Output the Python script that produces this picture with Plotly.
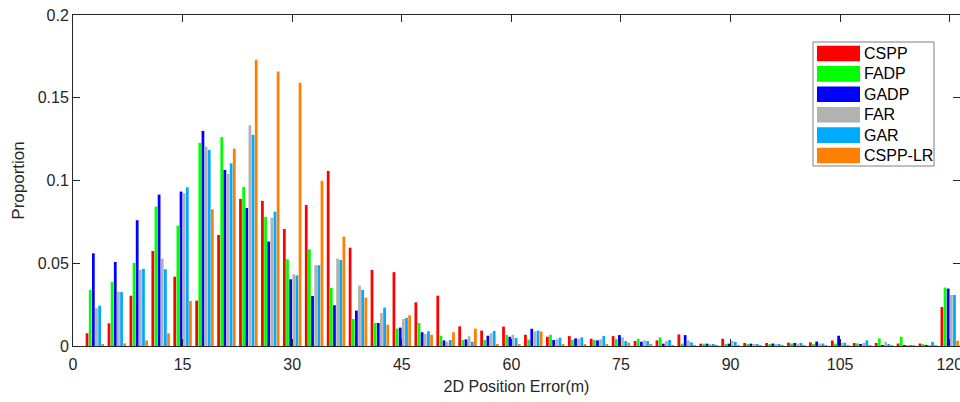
import plotly.graph_objects as go

bins = [3 * k for k in range(1, 41)]

series_names = ["CSPP", "FADP", "GADP", "FAR", "GAR", "CSPP-LR"]
series_colors = ["#FF0000", "#00FF00", "#0000FF", "#B2B2B2", "#00AAFF", "#FF8000"]

cspp = [0.0077, 0.0137, 0.0304, 0.0574, 0.0419, 0.0274, 0.0671, 0.0889, 0.0877, 0.0707,
        0.0852, 0.1058, 0.0594, 0.0460, 0.0446, 0.0264, 0.0304, 0.0119, 0.0093, 0.0117,
        0.0068, 0.0056, 0.0060, 0.0044, 0.0060, 0.0030, 0.0034, 0.0070, 0.0014, 0.0044,
        0.0018, 0.0018, 0.0020, 0.0022, 0.0033, 0.0018, 0.0018, 0.0015, 0.0015, 0.0236]
fadp = [0.0339, 0.0387, 0.0502, 0.0842, 0.0727, 0.1227, 0.1262, 0.0961, 0.0780, 0.0524,
        0.0584, 0.0351, 0.0163, 0.0139, 0.0105, 0.0139, 0.0062, 0.0036, 0.0036, 0.0067,
        0.0038, 0.0068, 0.0036, 0.0036, 0.0042, 0.0044, 0.0052, 0.0014, 0.0014, 0.0008,
        0.0012, 0.0010, 0.0015, 0.0010, 0.0014, 0.0016, 0.0046, 0.0056, 0.0008, 0.0353]
gadp = [0.0560, 0.0508, 0.0760, 0.0915, 0.0933, 0.1300, 0.1064, 0.0834, 0.0631, 0.0403,
        0.0302, 0.0246, 0.0214, 0.0139, 0.0111, 0.0083, 0.0034, 0.0040, 0.0062, 0.0056,
        0.0104, 0.0036, 0.0046, 0.0034, 0.0066, 0.0026, 0.0014, 0.0066, 0.0014, 0.0014,
        0.0014, 0.0015, 0.0018, 0.0027, 0.0062, 0.0010, 0.0005, 0.0005, 0.0005, 0.0347]
far = [0.0228, 0.0328, 0.0460, 0.0528, 0.0923, 0.1205, 0.1040, 0.1334, 0.0776, 0.0433,
       0.0488, 0.0528, 0.0365, 0.0200, 0.0163, 0.0073, 0.0026, 0.0059, 0.0077, 0.0068,
       0.0088, 0.0040, 0.0044, 0.0040, 0.0052, 0.0034, 0.0030, 0.0034, 0.0010, 0.0030,
       0.0008, 0.0008, 0.0015, 0.0015, 0.0020, 0.0018, 0.0026, 0.0006, 0.0006, 0.0308]
gar = [0.0244, 0.0326, 0.0466, 0.0464, 0.0959, 0.1185, 0.1104, 0.1276, 0.0812, 0.0427,
       0.0488, 0.0520, 0.0339, 0.0232, 0.0169, 0.0089, 0.0036, 0.0026, 0.0091, 0.0048,
       0.0093, 0.0050, 0.0052, 0.0060, 0.0030, 0.0030, 0.0036, 0.0022, 0.0010, 0.0025,
       0.0008, 0.0010, 0.0018, 0.0015, 0.0020, 0.0034, 0.0010, 0.0006, 0.0025, 0.0308]
cspp_lr = [0.0010, 0.0016, 0.0034, 0.0077, 0.0272, 0.0826, 0.1193, 0.1729, 0.1659, 0.1590,
           0.0998, 0.0661, 0.0292, 0.0129, 0.0186, 0.0068, 0.0083, 0.0105, 0.0012, 0.0010,
           0.0088, 0.0008, 0.0010, 0.0010, 0.0020, 0.0010, 0.0005, 0.0005, 0.0005, 0.0005,
           0.0005, 0.0005, 0.0005, 0.0005, 0.0005, 0.0005, 0.0005, 0.0005, 0.0005, 0.0032]

all_series = [cspp, fadp, gadp, far, gar, cspp_lr]

x_ticks = [0, 15, 30, 45, 60, 75, 90, 105, 120]
y_ticks = [0, 0.05, 0.1, 0.15, 0.2]
y_tick_labels = ["0", "0.05", "0.1", "0.15", "0.2"]

fig = go.Figure()
for name, color, vals in zip(series_names, series_colors, all_series):
    fig.add_trace(go.Bar(x=bins, y=vals, name=name, marker=dict(color=color, line=dict(width=0)),
                         showlegend=False))

# --- legend box (MATLAB style, wide swatches), positioned in paper coordinates ---
PLOT_L, PLOT_R, PLOT_T, PLOT_B = 73, 960, 15, 346


def px_x(p):
    return (p - PLOT_L) / (PLOT_R - PLOT_L)


def px_y(p):
    return (PLOT_B - p) / (PLOT_B - PLOT_T)


fig.add_shape(type="rect", xref="paper", yref="paper",
              x0=px_x(813), x1=px_x(934), y0=px_y(166), y1=px_y(42),
              line=dict(color="#7F7F7F", width=1), fillcolor="white", layer="above")
row0, pitch, half = 53.5, 20.4, 7.8
for i, (name, color) in enumerate(zip(series_names, series_colors)):
    cy = row0 + i * pitch
    fig.add_shape(type="rect", xref="paper", yref="paper",
                  x0=px_x(817), x1=px_x(860), y0=px_y(cy + half), y1=px_y(cy - half),
                  line=dict(width=0), fillcolor=color, layer="above")
    fig.add_annotation(xref="paper", yref="paper", x=px_x(862), y=px_y(cy),
                       xanchor="left", yanchor="middle", text=name, showarrow=False,
                       font=dict(size=16, color="black"))

axis_color = "#262626"
fig.update_layout(
    width=960, height=402,
    margin=dict(l=73, r=0, t=15, b=56, autoexpand=False),
    paper_bgcolor="white", plot_bgcolor="white",
    barmode="group", bargap=0.14, bargroupgap=0.12,
    font=dict(family="Liberation Sans, Arial, sans-serif", size=15, color=axis_color),
    showlegend=False,
)
fig.update_xaxes(range=[0, 121.4], tickvals=x_ticks, ticktext=[str(v) for v in x_ticks],
                 ticks="inside", ticklen=7, tickcolor=axis_color, showline=True,
                 linecolor=axis_color, linewidth=1, mirror="ticks", showgrid=False,
                 zeroline=False, tickfont=dict(size=16), automargin=False,
                 ticklabelstandoff=4, ticklabeloverflow="allow",
                 title=dict(text="2D Position Error(m)", font=dict(size=16), standoff=8))
fig.update_yaxes(range=[0, 0.2], tickvals=y_ticks, ticktext=y_tick_labels,
                 ticks="inside", ticklen=7, tickcolor=axis_color, showline=True,
                 linecolor=axis_color, linewidth=1, mirror="ticks", showgrid=False,
                 zeroline=False, tickfont=dict(size=16), automargin=False,
                 ticklabeloverflow="allow",
                 title=dict(text="Proportion", font=dict(size=17), standoff=8))

fig.write_html("out.html", config={"displayModeBar": False},
               post_script="document.body.style.margin='0';")
